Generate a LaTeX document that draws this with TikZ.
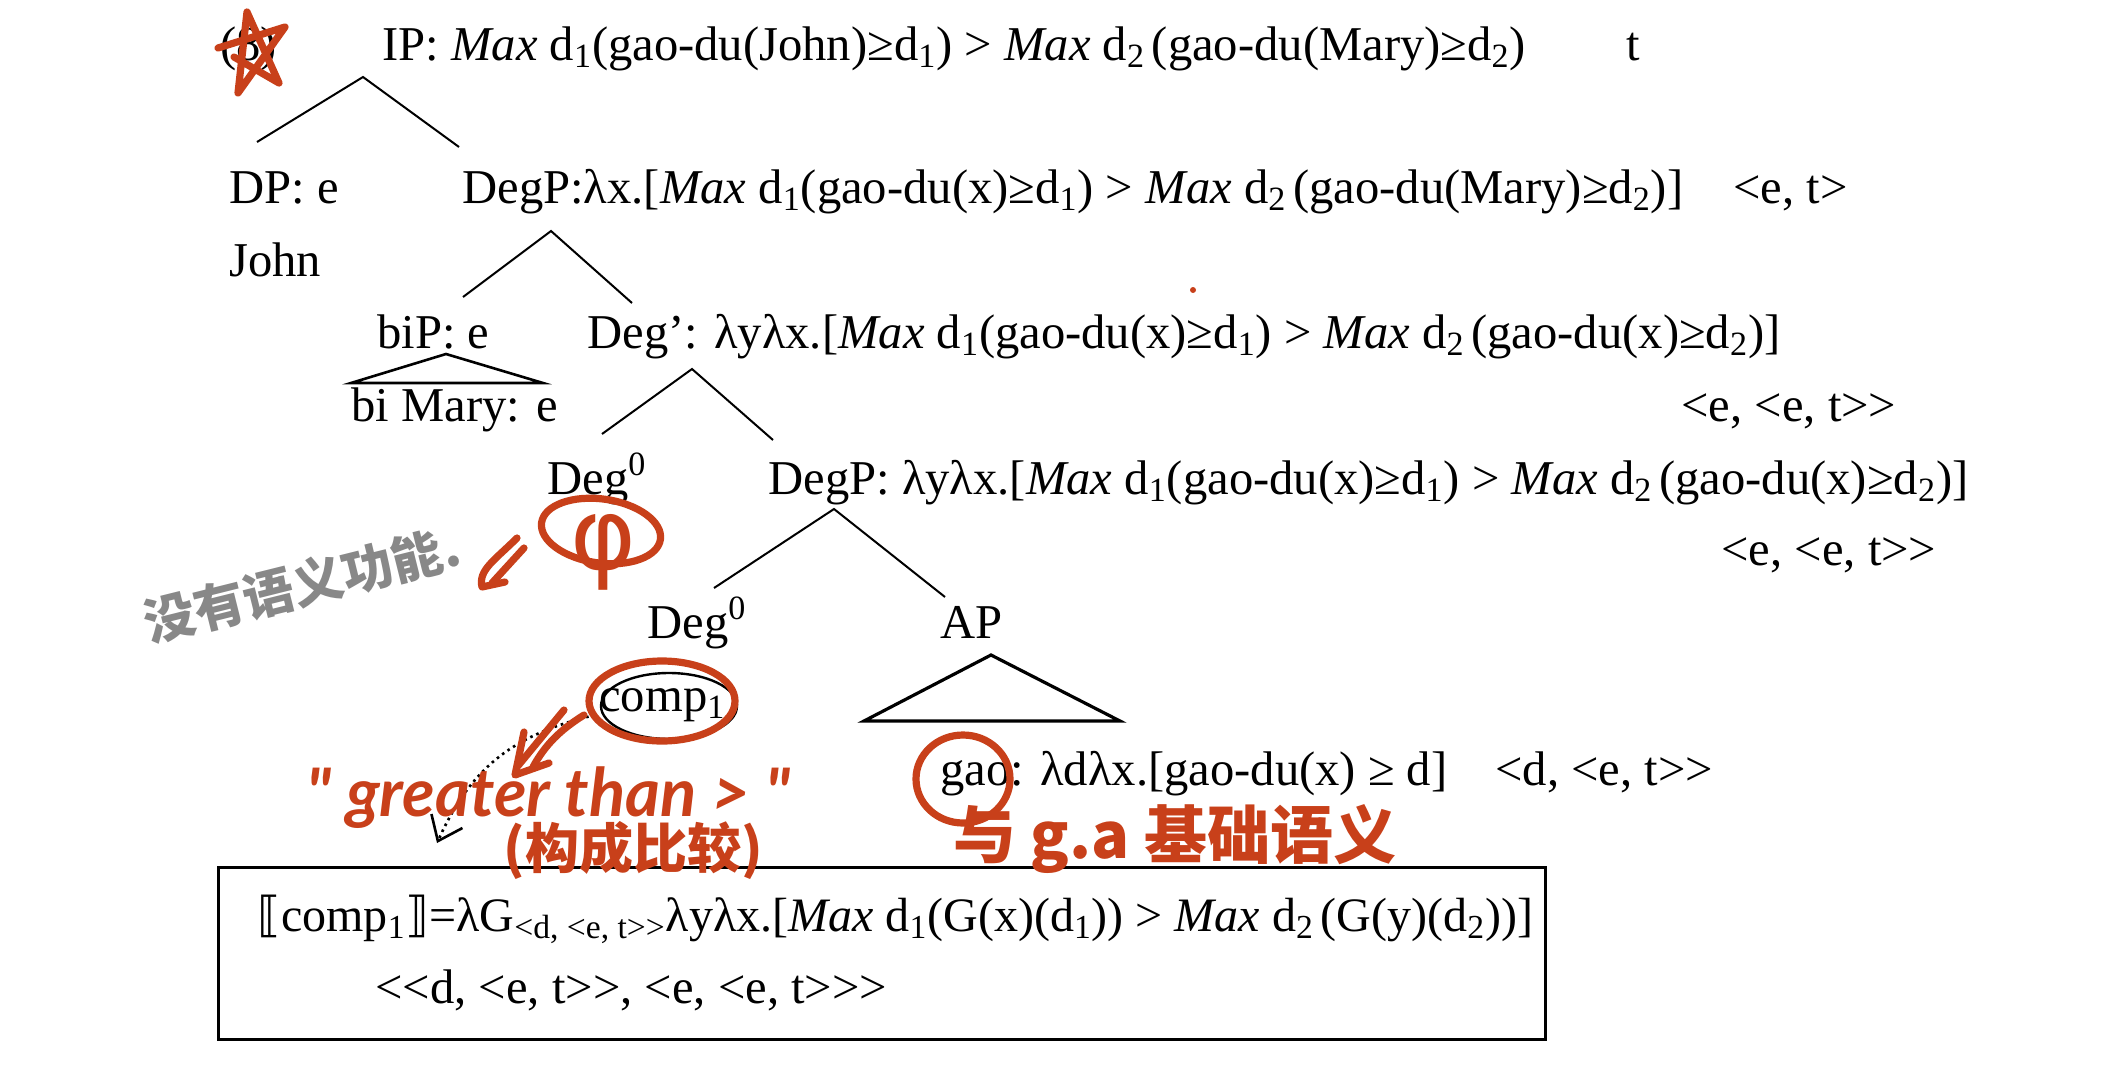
\documentclass[tikz,border=0pt]{standalone}
\usepackage{fontspec}
\setmainfont[Ligatures=ResetAll]{Liberation Serif}
\newfontfamily\cjkhand{Noto Sans CJK SC}
\newfontfamily\latinhand{Lato}
\newfontfamily\symhand{DejaVu Sans}
\usepackage{tikz}
\usetikzlibrary{calc}
\usetikzlibrary{arrows.meta}
\definecolor{penred}{RGB}{200,64,26}
\definecolor{pengray}{RGB}{136,136,136}
\newcommand{\dn}[1]{\textsubscript{#1}}
\newcommand{\up}[1]{\textsuperscript{#1}}
\newcommand{\mx}{\textit{Max}}
\newcommand{\lt}{<\kern0pt}
\newcommand{\gt}{>\kern0pt}
\newcommand{\dtwo}{d\dn{2}\hspace{0.14em}}

\begin{document}
\begin{tikzpicture}[x=0.5pt,y=-0.5pt,
		lab/.style={anchor=base west,inner sep=0pt,font=\fontsize{24.3}{29}\selectfont},
		tree/.style={draw=black,line width=1pt},
		redink/.style={draw=penred,line width=3.6pt,line cap=round,line join=round},
		redtext/.style={inner sep=0pt,text=penred,font=\cjkhand\bfseries\fontsize{29}{34}\selectfont}]
				\useasboundingbox (0,0) rectangle (2102,1076);
				\def\rowa{60};
				\def\rowb{203};
				\def\rowc{348};
				\def\rowd{494};
				\def\rowe{638};
				\def\rowf{785};
				% labels
				\node[lab] (num) at (220,\rowa) {(8)};
				\node[lab] (ip) at (382,\rowa) {IP: \mx{} d\dn{1}(gao-du(John)≥d\dn{1}) > \mx{} \dtwo(gao-du(Mary)≥d\dn{2})};
				\node[lab] (iptype) at (1626,\rowa) {t};
				\node[lab] (dp) at (229,\rowb) {DP: e};
				\node[lab] (john) at (229,276) {John};
				\node[lab] (degpa) at (462,\rowb) {DegP:λx.[\mx{} d\dn{1}(gao-du(x)≥d\dn{1}) > \mx{} \dtwo(gao-du(Mary)≥d\dn{2})]};
				\node[lab] (degpatype) at (1733,\rowb) {<e, t>};
				\node[lab] (bip) at (377,\rowc) {biP: e};
				\node[lab] (bimary) at (351,421) {bi Mary: e};
				\node[lab] (degbar) at (587,\rowc) {Deg’: λyλx.[\mx{} d\dn{1}(gao-du(x)≥d\dn{1}) > \mx{} \dtwo(gao-du(x)≥d\dn{2})]};
				\node[lab] (degbartype) at (1681,421) {<e, <e, t\gt>};
				\node[lab] (dega) at (547,\rowd) {Deg\up{0}};
				\node[lab] (degpb) at (768,\rowd) {DegP: λyλx.[\mx{} d\dn{1}(gao-du(x)≥d\dn{1}) > \mx{} \dtwo(gao-du(x)≥d\dn{2})]};
				\node[lab] (degpbtype) at (1721,565) {<e, <e, t\gt>};
				\node[lab] (degb) at (647,\rowe) {Deg\up{0}};
				\node[lab] (ap) at (940,\rowe) {AP};
				\node[lab] (comp) at (599,711) {comp\dn{1}};
				\node[lab] (gao) at (940,\rowf) {gao: λdλx.[gao-du(x) ≥ d]};
				\node[lab] (gaotype) at (1495,\rowf) {<d, <e, t\gt>};
				\node[lab,font=\fontsize{24}{29}\selectfont] (def) at (257,931) {{\symhand ⟦}comp\dn{1}{\symhand ⟧}=λG\dn{<d, <e, t\gt>}λyλx.[\mx{} d\dn{1}(G(x)(d\dn{1})) > \mx{} \dtwo(G(y)(d\dn{2}))]};
				\node[lab] (deftype) at (375,1003) {\lt<d, <e, t\gt>, <e, <e, t\gt\gt>};
				% tree lines
				\coordinate (a1) at (363,77);
				\coordinate (a2) at (257,142);
				\coordinate (a3) at (459,147);
				\coordinate (b1) at (551,231);
				\coordinate (b2) at (463,297);
				\coordinate (b3) at (632,303);
				\coordinate (c1) at (692,369);
				\coordinate (c2) at (602,434);
				\coordinate (c3) at (773,440);
				\coordinate (d1) at (834,509);
				\coordinate (d2) at (714,588);
				\coordinate (d3) at (945,597);
				\draw[tree] (a2) -- (a1) -- (a3);
				\draw[tree] (b2) -- (b1) -- (b3);
				\draw[tree] (c2) -- (c1) -- (c3);
				\draw[tree] (d2) -- (d1) -- (d3);
				\coordinate (t1) at (446,354);
				\coordinate (t2) at (351,383);
				\coordinate (t3) at (543,383);
				\draw[tree,line width=1.3pt] (t1) -- (t2) -- (t3) -- cycle;
				\coordinate (u1) at (991,655);
				\coordinate (u2) at (864,721);
				\coordinate (u3) at (1120,721);
				\draw[tree,line width=1.6pt] (u1) -- (u2) -- (u3) -- cycle;
				% comp
				\coordinate (compc) at (669,706);
				\draw[tree,line width=1.2pt] (compc) ellipse [x radius=68,y radius=33];
				\coordinate (dota) at (595,715);
				\coordinate (dotb) at (437,843);
				\draw[tree,line width=1.3pt,dotted,-{Straight Barb[length=11pt,width=17pt]}] (dota) .. controls (510,735) and (470,770) .. (dotb);
				\node[draw=black,line width=1.5pt,inner sep=0pt,minimum width=663.5pt,minimum height=86pt,anchor=north west] (box) at (217,866) {};
				% handwriting
				\coordinate (s1) at (218,48);
				\coordinate (s2) at (285,27);
				\coordinate (s3) at (238,93);
				\coordinate (s4) at (247,12);
				\coordinate (s5) at (279,83);
				\coordinate (s6) at (234,57);
				\draw[redink] (s1) -- (s2) -- (s3) -- (s4) -- (s5) -- (s6);
				\fill[penred] (1193,290) circle (3);
				\coordinate (opc) at (601,531);
				\draw[redink] (opc) ellipse [x radius=60,y radius=32,rotate=-8];
				\node[redtext,font=\symhand\fontsize{50}{54}\selectfont] (op) at (603,552) {φ};
				\coordinate (redc) at (662,701);
				\draw[redink] (redc) ellipse [x radius=73,y radius=40];
				\coordinate (gaoc) at (963,779);
				\draw[redink] (gaoc) ellipse [x radius=47,y radius=44];
				\draw[redink] (517,538) .. controls (495,560) and (478,570) .. (482,587) -- (505,582);
				\draw[redink] (524,548) -- (492,583);
				\draw[redink] (564,710) -- (517,767);
				\draw[redink] (584,715) .. controls (560,730) and (545,745) .. (533,767);
				\draw[redink] (524,732) -- (515,775) -- (549,763);
				\node[redtext,font=\latinhand\bfseries\itshape\fontsize{33.5}{38}\selectfont,anchor=base west] (great) at (306,816) {" greater than > "};
				\node[redtext,font=\cjkhand\bfseries\fontsize{27}{32}\selectfont] (cmp) at (633,850) {(构成比较)};
				\node[redtext,font=\cjkhand\bfseries\fontsize{31.5}{36}\selectfont,anchor=base west] (base) at (953,858) {与 g.a 基础语义};
				\node[redtext,text=pengray,rotate=14,font=\cjkhand\bfseries\fontsize{25.5}{30}\selectfont] (nosem) at (302,585) {没有语义功能.};
			\end{tikzpicture}
\end{document}
